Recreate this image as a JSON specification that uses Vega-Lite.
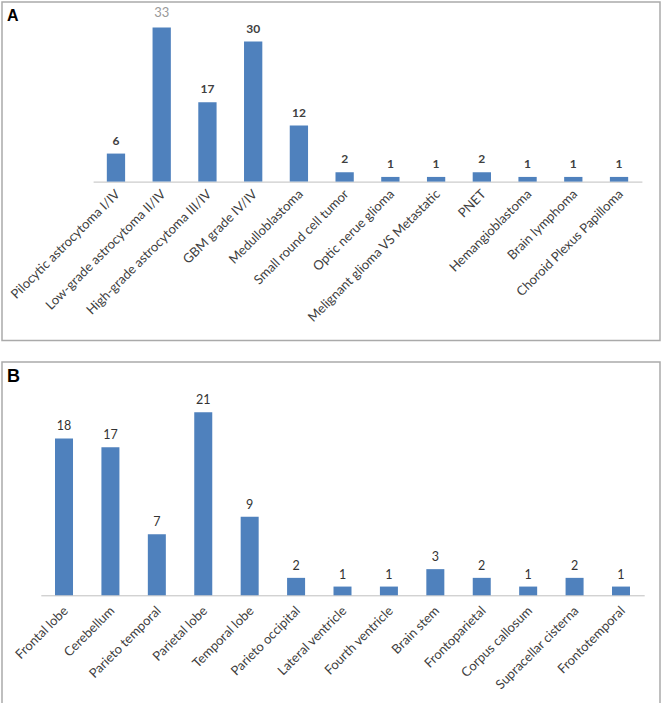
{
  "$schema": "https://vega.github.io/schema/vega-lite/v6.json",
  "padding": {"left": 1, "top": 1, "right": 1, "bottom": 1},
  "background": "white",
  "spacing": 19,
  "config": {
    "view": {"stroke": "#aaaaaa", "strokeWidth": 1.5},
    "font": "Lato"
  },
  "vconcat": [
    {
      "width": 658,
      "height": 338.5,
      "title": {"text": "A", "anchor": "start", "offset": -22, "dx": 5, "fontSize": 16, "font": "Liberation Sans", "fontWeight": "bold", "color": "#000000"},
      "data": {"values": [
        {"cat": "Pilocytic astrocytoma I/IV", "n": 6},
        {"cat": "Low-grade astrocytoma II/IV", "n": 33},
        {"cat": "High-grade astrocytoma III/IV", "n": 17},
        {"cat": "GBM grade IV/IV", "n": 30},
        {"cat": "Medulloblastoma", "n": 12},
        {"cat": "Small round cell tumor", "n": 2},
        {"cat": "Optic nerue glioma", "n": 1},
        {"cat": "Melignant glioma VS Metastatic", "n": 1},
        {"cat": "PNET", "n": 2},
        {"cat": "Hemangioblastoma", "n": 1},
        {"cat": "Brain lymphoma", "n": 1},
        {"cat": "Choroid Plexus Papilloma", "n": 1}
      ]},
      "encoding": {
        "x": {
          "field": "cat", "type": "nominal", "sort": null,
          "scale": {"range": [91.1, 639.9], "paddingInner": 0.6, "paddingOuter": 0.3, "round": false},
          "axis": {"title": null, "labelAngle": -45, "labelAlign": "right", "labelBaseline": "middle", "offset": -158.9, "domain": true, "domainColor": "#bfbfbf", "domainWidth": 1, "ticks": false, "grid": false, "labelFont": "Lato", "labelFontSize": 13, "labelColor": "#404040", "labelPadding": 10, "labelOffset": 2, "labelLimit": 400, "labelOverlap": false, "labelBound": false}
        }
      },
      "layer": [
        {
          "mark": {"type": "bar", "color": "#4F81BD"},
          "encoding": {"y": {"field": "n", "type": "quantitative", "axis": null, "scale": {"domain": [-34.03, 38.46], "nice": false, "zero": false}}, "y2": {"datum": 0}}
        },
        {
          "transform": [{"filter": "datum.n !== 33"}],
          "mark": {"type": "text", "baseline": "alphabetic", "dy": -9, "fontSize": 12, "fontWeight": "bold", "color": "#404040"},
          "encoding": {"y": {"field": "n", "type": "quantitative", "axis": null}, "text": {"field": "n", "type": "quantitative"}}
        },
        {
          "transform": [{"filter": "datum.n === 33"}],
          "mark": {"type": "text", "baseline": "alphabetic", "dy": -10, "fontSize": 13, "fontWeight": "normal", "color": "#9a9a9a"},
          "encoding": {"y": {"field": "n", "type": "quantitative", "axis": null}, "text": {"field": "n", "type": "quantitative"}}
        }
      ]
    },
    {
      "width": 658,
      "height": 343,
      "title": {"text": "B", "anchor": "start", "offset": -24, "dx": 5, "fontSize": 18, "font": "Liberation Sans", "fontWeight": "bold", "color": "#000000"},
      "data": {"values": [
        {"cat": "Frontal lobe", "n": 18},
        {"cat": "Cerebellum", "n": 17},
        {"cat": "Parieto temporal", "n": 7},
        {"cat": "Parietal lobe", "n": 21},
        {"cat": "Temporal lobe", "n": 9},
        {"cat": "Parieto occipital", "n": 2},
        {"cat": "Lateral ventricle", "n": 1},
        {"cat": "Fourth ventricle", "n": 1},
        {"cat": "Brain stem", "n": 3},
        {"cat": "Frontoparietal", "n": 2},
        {"cat": "Corpus callosum", "n": 1},
        {"cat": "Supracellar cisterna", "n": 2},
        {"cat": "Frontotemporal", "n": 1}
      ]},
      "encoding": {
        "x": {
          "field": "cat", "type": "nominal", "sort": null,
          "scale": {"range": [38.8, 642.2], "paddingInner": 0.612, "paddingOuter": 0.306, "round": false},
          "axis": {"title": null, "labelAngle": -45, "labelAlign": "right", "labelBaseline": "middle", "offset": -109.7, "domain": true, "domainColor": "#bfbfbf", "domainWidth": 1, "ticks": false, "grid": false, "labelFont": "Lato", "labelFontSize": 13, "labelColor": "#404040", "labelPadding": 13, "labelOffset": 2, "labelLimit": 400, "labelOverlap": false, "labelBound": false}
        }
      },
      "layer": [
        {
          "mark": {"type": "bar", "color": "#4F81BD"},
          "encoding": {"y": {"field": "n", "type": "quantitative", "axis": null, "scale": {"domain": [-12.59, 26.77], "nice": false, "zero": false}}, "y2": {"datum": 0}}
        },
        {
          "mark": {"type": "text", "baseline": "alphabetic", "dy": -8, "fontSize": 12.5, "color": "#333333"},
          "encoding": {"y": {"field": "n", "type": "quantitative", "axis": null}, "text": {"field": "n", "type": "quantitative"}}
        }
      ]
    }
  ]
}
